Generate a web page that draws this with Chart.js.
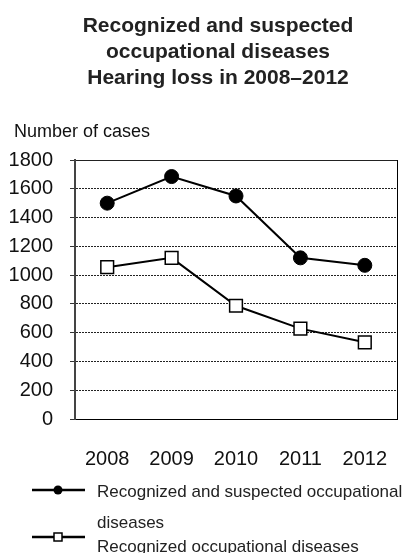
<!DOCTYPE html>
<html>
<head>
<meta charset="utf-8">
<script src="https://cdn.jsdelivr.net/npm/chart.js@4/dist/chart.umd.min.js"></script>
<style>
  html, body { margin: 0; padding: 0; background: #fff; }
  #chart { display: block; }
</style>
</head>
<body>
<canvas id="chart" width="409" height="553"></canvas>
<script>
const years = ['2008', '2009', '2010', '2011', '2012'];
const suspectedCases = [1500, 1685, 1550, 1120, 1068];
const recognizedCases = [1055, 1120, 787, 628, 533];
const yTicks = [0, 200, 400, 600, 800, 1000, 1200, 1400, 1600, 1800];
const titleLines = ['Recognized and suspected', 'occupational diseases', 'Hearing loss in 2008\u20132012'];
const yAxisTitle = 'Number of cases';
const seriesNames = ['Recognized and suspected occupational diseases', 'Recognized occupational diseases'];

const FONT = "'Liberation Sans', Arial, sans-serif";

// title (centred a bit right of the page, like the original) + axis caption
const headings = {
  id: 'headings',
  afterDraw(chart) {
    const ctx = chart.ctx;
    ctx.save();
    ctx.textBaseline = 'middle';
    ctx.textAlign = 'center';
    ctx.fillStyle = '#222';
    ctx.font = 'bold 21px ' + FONT;
    titleLines.forEach((t, i) => ctx.fillText(t, 218, 26 + i * 26));
    ctx.textAlign = 'left';
    ctx.fillStyle = '#111';
    ctx.font = '18px ' + FONT;
    ctx.fillText(yAxisTitle, 14, chart.chartArea.top - 28);
    ctx.restore();
  }
};

// legend drawn under the axis, text wraps like the original
const bottomLegend = {
  id: 'bottomLegend',
  afterDraw(chart) {
    const ctx = chart.ctx;
    const rows = [
      { lineY: 490, textY: 492 },
      { lineY: 537, textY: 547 }
    ];
    ctx.save();
    ctx.font = '17px ' + FONT;
    ctx.textBaseline = 'middle';
    chart.data.datasets.forEach((ds, i) => {
      const r = rows[i];
      ctx.strokeStyle = '#000';
      ctx.lineWidth = 2.5;
      ctx.beginPath();
      ctx.moveTo(32, r.lineY);
      ctx.lineTo(85, r.lineY);
      ctx.stroke();
      ctx.lineWidth = 1.5;
      if (ds.pointStyle === 'circle') {
        ctx.fillStyle = '#000';
        ctx.beginPath();
        ctx.arc(58, r.lineY, 4.5, 0, Math.PI * 2);
        ctx.fill();
      } else {
        ctx.fillStyle = '#fff';
        ctx.fillRect(54, r.lineY - 4, 8, 8);
        ctx.strokeRect(54, r.lineY - 4, 8, 8);
      }
      ctx.fillStyle = '#222';
      const words = ds.label.split(' ');
      let line = '', y = r.textY;
      words.forEach(w => {
        const test = line ? line + ' ' + w : w;
        if (ctx.measureText(test).width > 308 && line) {
          ctx.fillText(line, 97, y);
          line = w;
          y += 31;
        } else {
          line = test;
        }
      });
      ctx.fillText(line, 97, y);
    });
    ctx.restore();
  }
};

new Chart(document.getElementById('chart'), {
  type: 'line',
  data: {
    labels: years,
    datasets: [
      {
        label: seriesNames[0],
        data: suspectedCases,
        borderColor: '#000',
        borderWidth: 2,
        pointStyle: 'circle',
        pointRadius: 7,
        pointBackgroundColor: '#000',
        pointBorderColor: '#000',
        pointBorderWidth: 1,
        tension: 0
      },
      {
        label: seriesNames[1],
        data: recognizedCases,
        borderColor: '#000',
        borderWidth: 2,
        pointStyle: 'rect',
        pointRadius: 9,
        pointBackgroundColor: '#fff',
        pointBorderColor: '#000',
        pointBorderWidth: 1.5,
        tension: 0
      }
    ]
  },
  options: {
    responsive: false,
    animation: false,
    layout: { padding: { left: 0, right: 12, top: 160, bottom: 74 } },
    plugins: {
      legend: { display: false },
      tooltip: { enabled: false },
      title: { display: false }
    },
    scales: {
      x: {
        offset: true,
        grid: {
          offset: true,
          drawTicks: true,
          tickLength: 24,
          tickColor: 'rgba(0,0,0,0)',
          // only the closing line on the right edge is visible
          color: (c) => c.type === 'scale' ? '#000' : 'rgba(0,0,0,0)',
          lineWidth: 1
        },
        border: { display: true, color: '#000', width: 1 },
        ticks: { color: '#111', font: { family: FONT, size: 20 }, padding: 4 },
        afterFit(scale) { scale.height = 60; }
      },
      y: {
        min: 0,
        max: 1800,
        afterBuildTicks(scale) { scale.ticks = yTicks.map(v => ({ value: v })); },
        grid: {
          color: (c) => c.tick && c.tick.value === 0 ? 'rgba(0,0,0,0)' : '#222',
          tickColor: '#333',
          tickLength: 5,
          lineWidth: 1
        },
        border: {
          display: true,
          color: '#444',
          width: 2,
          dash: (c) => (c.tick && c.tick.value === 1800) ? [] : [2, 1]
        },
        ticks: {
          color: '#111',
          font: { family: FONT, size: 20 },
          padding: 17,
          callback: (v) => String(v)
        },
        afterFit(scale) { scale.width = 75; }
      }
    }
  },
  plugins: [headings, bottomLegend]
});
</script>
</body>
</html>
